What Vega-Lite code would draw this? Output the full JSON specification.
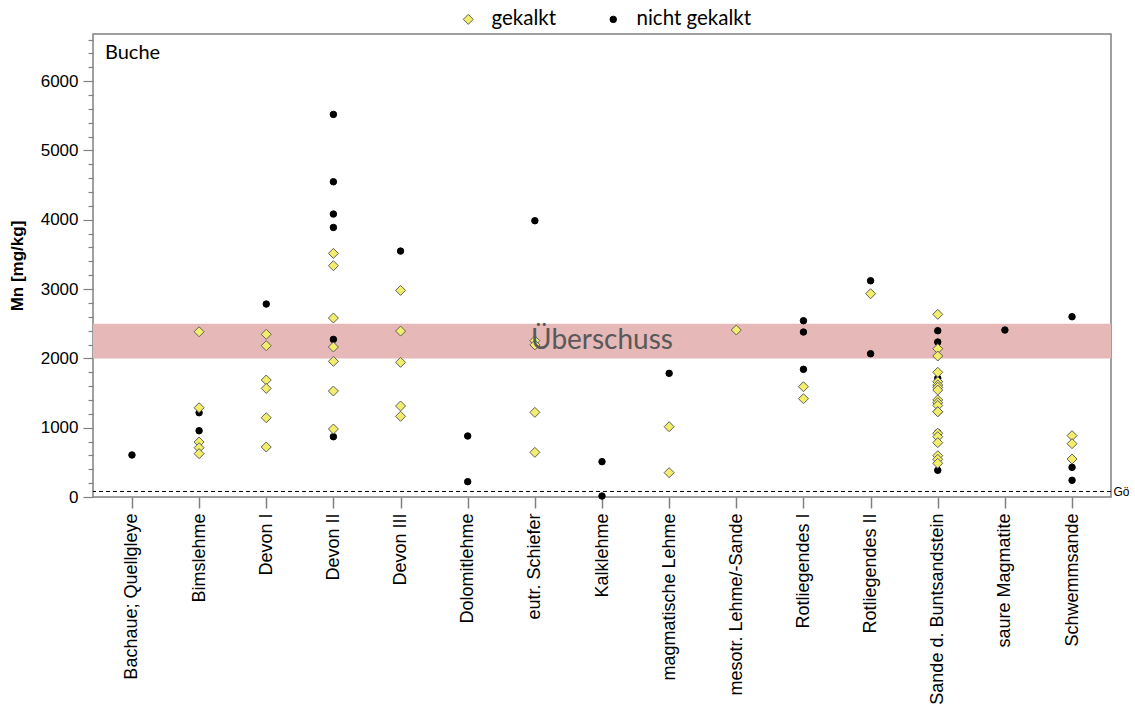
{
  "$schema": "https://vega.github.io/schema/vega-lite/v6.json",
  "width": 1018,
  "height": 463,
  "autosize": {"type": "none"},
  "padding": {"left": 93, "top": 34, "right": 24, "bottom": 214},
  "background": "white",
  "config": {
    "view": {"stroke": "#808080", "strokeWidth": 1.5},
    "font": "Liberation Sans"
  },
  "title": {
    "text": "Buche",
    "anchor": "start",
    "frame": "group",
    "orient": "top",
    "offset": 0,
    "baseline": "top",
    "dx": 12,
    "dy": 54,
    "font": "Lato",
    "fontSize": 20,
    "fontWeight": "normal",
    "color": "#000000"
  },
  "datasets": {
    "points": [
      {"cat": "Bachaue; Quellgleye", "group": "nicht gekalkt", "mn": 606},
      {"cat": "Bimslehme", "group": "nicht gekalkt", "mn": 1216},
      {"cat": "Bimslehme", "group": "nicht gekalkt", "mn": 956},
      {"cat": "Devon I", "group": "nicht gekalkt", "mn": 2784},
      {"cat": "Devon II", "group": "nicht gekalkt", "mn": 5520},
      {"cat": "Devon II", "group": "nicht gekalkt", "mn": 4548},
      {"cat": "Devon II", "group": "nicht gekalkt", "mn": 4082},
      {"cat": "Devon II", "group": "nicht gekalkt", "mn": 3889},
      {"cat": "Devon II", "group": "nicht gekalkt", "mn": 2274},
      {"cat": "Devon II", "group": "nicht gekalkt", "mn": 870},
      {"cat": "Devon III", "group": "nicht gekalkt", "mn": 3548},
      {"cat": "Dolomitlehme", "group": "nicht gekalkt", "mn": 880},
      {"cat": "Dolomitlehme", "group": "nicht gekalkt", "mn": 221},
      {"cat": "eutr. Schiefer", "group": "nicht gekalkt", "mn": 3986},
      {"cat": "Kalklehme", "group": "nicht gekalkt", "mn": 510},
      {"cat": "Kalklehme", "group": "nicht gekalkt", "mn": 14},
      {"cat": "magmatische Lehme", "group": "nicht gekalkt", "mn": 1784},
      {"cat": "Rotliegendes I", "group": "nicht gekalkt", "mn": 2543},
      {"cat": "Rotliegendes I", "group": "nicht gekalkt", "mn": 2380},
      {"cat": "Rotliegendes I", "group": "nicht gekalkt", "mn": 1842},
      {"cat": "Rotliegendes II", "group": "nicht gekalkt", "mn": 3120},
      {"cat": "Rotliegendes II", "group": "nicht gekalkt", "mn": 2067},
      {"cat": "Sande d. Buntsandstein", "group": "nicht gekalkt", "mn": 2399},
      {"cat": "Sande d. Buntsandstein", "group": "nicht gekalkt", "mn": 2236},
      {"cat": "Sande d. Buntsandstein", "group": "nicht gekalkt", "mn": 1712},
      {"cat": "Sande d. Buntsandstein", "group": "nicht gekalkt", "mn": 1350},
      {"cat": "Sande d. Buntsandstein", "group": "nicht gekalkt", "mn": 927},
      {"cat": "Sande d. Buntsandstein", "group": "nicht gekalkt", "mn": 385},
      {"cat": "saure Magmatite", "group": "nicht gekalkt", "mn": 2409},
      {"cat": "Schwemmsande", "group": "nicht gekalkt", "mn": 2601},
      {"cat": "Schwemmsande", "group": "nicht gekalkt", "mn": 428},
      {"cat": "Schwemmsande", "group": "nicht gekalkt", "mn": 241},
      {"cat": "Bimslehme", "group": "gekalkt", "mn": 2384},
      {"cat": "Bimslehme", "group": "gekalkt", "mn": 1288},
      {"cat": "Bimslehme", "group": "gekalkt", "mn": 793},
      {"cat": "Bimslehme", "group": "gekalkt", "mn": 711},
      {"cat": "Bimslehme", "group": "gekalkt", "mn": 625},
      {"cat": "Devon I", "group": "gekalkt", "mn": 2347},
      {"cat": "Devon I", "group": "gekalkt", "mn": 2183},
      {"cat": "Devon I", "group": "gekalkt", "mn": 1688},
      {"cat": "Devon I", "group": "gekalkt", "mn": 1567},
      {"cat": "Devon I", "group": "gekalkt", "mn": 1144},
      {"cat": "Devon I", "group": "gekalkt", "mn": 721},
      {"cat": "Devon II", "group": "gekalkt", "mn": 3515},
      {"cat": "Devon II", "group": "gekalkt", "mn": 3337},
      {"cat": "Devon II", "group": "gekalkt", "mn": 2582},
      {"cat": "Devon II", "group": "gekalkt", "mn": 2164},
      {"cat": "Devon II", "group": "gekalkt", "mn": 1957},
      {"cat": "Devon II", "group": "gekalkt", "mn": 1529},
      {"cat": "Devon II", "group": "gekalkt", "mn": 981},
      {"cat": "Devon III", "group": "gekalkt", "mn": 2981},
      {"cat": "Devon III", "group": "gekalkt", "mn": 2394},
      {"cat": "Devon III", "group": "gekalkt", "mn": 1943},
      {"cat": "Devon III", "group": "gekalkt", "mn": 1313},
      {"cat": "Devon III", "group": "gekalkt", "mn": 1164},
      {"cat": "eutr. Schiefer", "group": "gekalkt", "mn": 2255},
      {"cat": "eutr. Schiefer", "group": "gekalkt", "mn": 2195},
      {"cat": "eutr. Schiefer", "group": "gekalkt", "mn": 1221},
      {"cat": "eutr. Schiefer", "group": "gekalkt", "mn": 644},
      {"cat": "magmatische Lehme", "group": "gekalkt", "mn": 1014},
      {"cat": "magmatische Lehme", "group": "gekalkt", "mn": 351},
      {"cat": "mesotr. Lehme/-Sande", "group": "gekalkt", "mn": 2409},
      {"cat": "Rotliegendes I", "group": "gekalkt", "mn": 1591},
      {"cat": "Rotliegendes I", "group": "gekalkt", "mn": 1418},
      {"cat": "Rotliegendes II", "group": "gekalkt", "mn": 2933},
      {"cat": "Sande d. Buntsandstein", "group": "gekalkt", "mn": 2635},
      {"cat": "Sande d. Buntsandstein", "group": "gekalkt", "mn": 2139},
      {"cat": "Sande d. Buntsandstein", "group": "gekalkt", "mn": 2034},
      {"cat": "Sande d. Buntsandstein", "group": "gekalkt", "mn": 1799},
      {"cat": "Sande d. Buntsandstein", "group": "gekalkt", "mn": 1663},
      {"cat": "Sande d. Buntsandstein", "group": "gekalkt", "mn": 1615},
      {"cat": "Sande d. Buntsandstein", "group": "gekalkt", "mn": 1582},
      {"cat": "Sande d. Buntsandstein", "group": "gekalkt", "mn": 1543},
      {"cat": "Sande d. Buntsandstein", "group": "gekalkt", "mn": 1400},
      {"cat": "Sande d. Buntsandstein", "group": "gekalkt", "mn": 1360},
      {"cat": "Sande d. Buntsandstein", "group": "gekalkt", "mn": 1320},
      {"cat": "Sande d. Buntsandstein", "group": "gekalkt", "mn": 1230},
      {"cat": "Sande d. Buntsandstein", "group": "gekalkt", "mn": 1230},
      {"cat": "Sande d. Buntsandstein", "group": "gekalkt", "mn": 920},
      {"cat": "Sande d. Buntsandstein", "group": "gekalkt", "mn": 870},
      {"cat": "Sande d. Buntsandstein", "group": "gekalkt", "mn": 784},
      {"cat": "Sande d. Buntsandstein", "group": "gekalkt", "mn": 596},
      {"cat": "Sande d. Buntsandstein", "group": "gekalkt", "mn": 543},
      {"cat": "Sande d. Buntsandstein", "group": "gekalkt", "mn": 486},
      {"cat": "Schwemmsande", "group": "gekalkt", "mn": 885},
      {"cat": "Schwemmsande", "group": "gekalkt", "mn": 769},
      {"cat": "Schwemmsande", "group": "gekalkt", "mn": 548}
    ]
  },
  "layer": [
    {
      "data": {"values": [{"lo": 2000, "hi": 2500}]},
      "mark": {"type": "rect", "fill": "#e6b8b7"},
      "encoding": {
        "y": {"field": "lo", "type": "quantitative", "axis": null, "scale": {"domain": [0, 6680], "nice": false}},
        "y2": {"field": "hi"}
      }
    },
    {
      "data": {"values": [{"g": 80}]},
      "mark": {"type": "rule", "color": "#000000", "strokeDash": [4, 3], "strokeWidth": 1},
      "encoding": {
        "y": {
          "field": "g",
          "type": "quantitative",
          "axis": {
            "orient": "right",
            "values": [80],
            "labelExpr": "'Gö'",
            "ticks": false,
            "domain": false,
            "grid": false,
            "title": null,
            "labelFont": "Liberation Sans",
            "labelFontSize": 12,
            "labelColor": "#000000",
            "labelPadding": 2,
            "labelBaseline": "middle"
          }
        }
      }
    },
    {
      "data": {"name": "points"},
      "mark": {"type": "point", "filled": true, "strokeWidth": 1, "opacity": 1},
      "encoding": {
        "x": {
          "field": "cat",
          "type": "nominal",
          "sort": null,
          "title": null,
          "scale": {
            "type": "point",
            "padding": 0.58,
            "domain": ["Bachaue; Quellgleye", "Bimslehme", "Devon I", "Devon II", "Devon III", "Dolomitlehme", "eutr. Schiefer", "Kalklehme", "magmatische Lehme", "mesotr. Lehme/-Sande", "Rotliegendes I", "Rotliegendes II", "Sande d. Buntsandstein", "saure Magmatite", "Schwemmsande"]
          },
          "axis": {
            "title": null,
            "labelAngle": -90,
            "labelFont": "Liberation Sans",
            "labelFontSize": 18,
            "labelColor": "#000000",
            "labelLimit": 0,
            "labelPadding": 5,
            "tickSize": 11,
            "tickColor": "#808080",
            "tickWidth": 1.5,
            "domain": false,
            "grid": false
          }
        },
        "y": {
          "field": "mn",
          "type": "quantitative",
          "scale": {"domain": [0, 6680], "nice": false},
          "axis": {
            "title": "Mn [mg/kg]",
            "titleFont": "Liberation Sans",
            "titleFontSize": 17,
            "titleFontWeight": "bold",
            "titleColor": "#000000",
            "titlePadding": 14,
            "values": [0, 200, 400, 600, 800, 1000, 1200, 1400, 1600, 1800, 2000, 2200, 2400, 2600, 2800, 3000, 3200, 3400, 3600, 3800, 4000, 4200, 4400, 4600, 4800, 5000, 5200, 5400, 5600, 5800, 6000, 6200, 6400, 6600],
            "labelExpr": "datum.value % 1000 === 0 ? datum.label : ''",
            "format": "d",
            "labelOverlap": false,
            "labelFlush": false,
            "labelFont": "Liberation Sans",
            "labelFontSize": 17,
            "labelColor": "#000000",
            "labelPadding": 5,
            "tickSize": {"condition": {"test": "datum.value % 1000 === 0", "value": 10}, "value": 5},
            "tickColor": "#808080",
            "tickWidth": 1.2,
            "domain": false,
            "grid": false
          }
        },
        "shape": {
          "field": "group",
          "type": "nominal",
          "scale": {"domain": ["gekalkt", "nicht gekalkt"], "range": ["diamond", "circle"]},
          "legend": {
            "title": null,
            "orient": "none",
            "direction": "horizontal",
            "legendX": 365,
            "legendY": -25,
            "labelFont": "Lato",
            "labelFontSize": 20.5,
            "labelColor": "#000000",
            "labelOffset": 13,
            "columnPadding": 46,
            "symbolStrokeWidth": 1
          }
        },
        "fill": {
          "field": "group",
          "type": "nominal",
          "scale": {"domain": ["gekalkt", "nicht gekalkt"], "range": ["#f2ee6c", "#000000"]}
        },
        "stroke": {
          "field": "group",
          "type": "nominal",
          "scale": {"domain": ["gekalkt", "nicht gekalkt"], "range": ["#5f5f5f", "#000000"]}
        },
        "size": {
          "field": "group",
          "type": "nominal",
          "scale": {"domain": ["gekalkt", "nicht gekalkt"], "range": [100, 42]}
        }
      }
    },
    {
      "data": {"values": [{"cat": "Kalklehme", "v": 2250, "t": "Überschuss"}]},
      "mark": {"type": "text", "font": "Lato", "fontSize": 28, "color": "#595959", "align": "center", "baseline": "middle"},
      "encoding": {
        "x": {"field": "cat", "type": "nominal", "title": null},
        "y": {"field": "v", "type": "quantitative", "axis": null},
        "text": {"field": "t"}
      }
    }
  ],
  "resolve": {"axis": {"y": "independent"}}
}
